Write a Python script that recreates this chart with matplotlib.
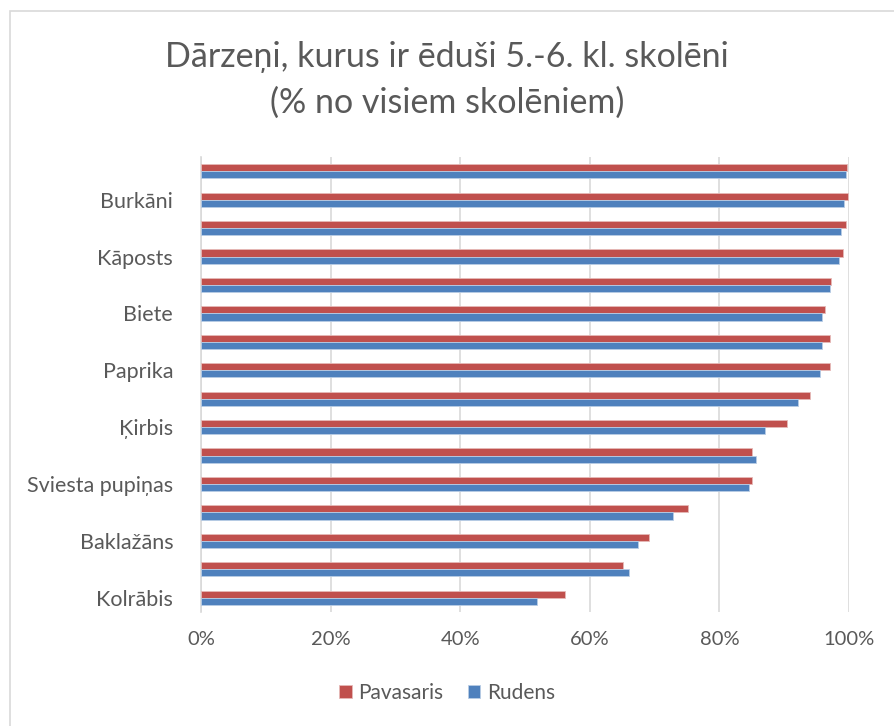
import numpy as np
import matplotlib.pyplot as plt
from matplotlib.patches import Rectangle
from matplotlib.ticker import PercentFormatter

plt.rcParams['font.family'] = ['Lato', 'DejaVu Sans']

# data (top to bottom); only every other category name is shown on the chart
labels = ['', 'Burkāni', '', 'Kāposts', '', 'Biete', '', 'Paprika',
          '', 'Ķirbis', '', 'Sviesta pupiņas', '', 'Baklažāns', '', 'Kolrābis']
pavasaris = [99.7, 99.8, 99.5, 99.0, 97.2, 96.3, 97.1, 97.0,
             94.0, 90.5, 85.1, 85.0, 75.1, 69.2, 65.2, 56.1]
rudens = [99.6, 99.2, 98.8, 98.5, 97.0, 95.8, 95.8, 95.6,
          92.2, 87.0, 85.7, 84.6, 72.9, 67.4, 66.1, 51.8]

red = '#C0504D'
blue = '#4F81BD'
txt = '#595959'

fig = plt.figure(figsize=(8.94, 7.26), dpi=100)
ax = fig.add_axes([201/894, 1-612/726, 648/894, 455/726])

# chart border
fig.patches.append(Rectangle((10/894, -0.01), 1.0, 1-11/726+0.01, transform=fig.transFigure,
                             fill=False, edgecolor='#D9D9D9', lw=1.2))

y = np.arange(len(labels))
h = 0.25
ax.barh(y - h/2, pavasaris, height=h, color=red, edgecolor='#E6B9B8', lw=0.6, label='Pavasaris', zorder=3)
ax.barh(y + h/2, rudens, height=h, color=blue, edgecolor='#B9CDE5', lw=0.6, label='Rudens', zorder=3)

ax.set_xlim(0, 100)
ax.set_ylim(len(labels) - 0.5, -0.5)
ax.set_xticks(np.arange(0, 101, 20))
ax.xaxis.set_major_formatter(PercentFormatter(decimals=0))
ax.set_yticks(y)
ax.set_yticklabels(labels)
ax.grid(axis='x', color='#D9D9D9', lw=1.2, zorder=0)
for s in ['top', 'right', 'bottom']:
    ax.spines[s].set_visible(False)
ax.spines['left'].set_color('#D9D9D9')
ax.spines['left'].set_linewidth(1.2)
ax.tick_params(axis='y', length=0, labelsize=15.5, colors=txt, pad=20)
ax.tick_params(axis='x', length=0, labelsize=14.5, colors=txt, pad=14)

fig.text(0.5, 1-80/726, 'Dārzeņi, kurus ir ēduši 5.-6. kl. skolēni\n(% no visiem skolēniem)',
         ha='center', va='center', fontsize=24.5, color=txt, linespacing=1.5)

fig.legend(loc='center', bbox_to_anchor=(0.5, 1-693/726), ncol=2, frameon=False,
           fontsize=15, labelcolor=txt, handlelength=0.6, handleheight=0.6,
           handletextpad=0.3, columnspacing=1.2)

plt.savefig('out.png', dpi=100)
